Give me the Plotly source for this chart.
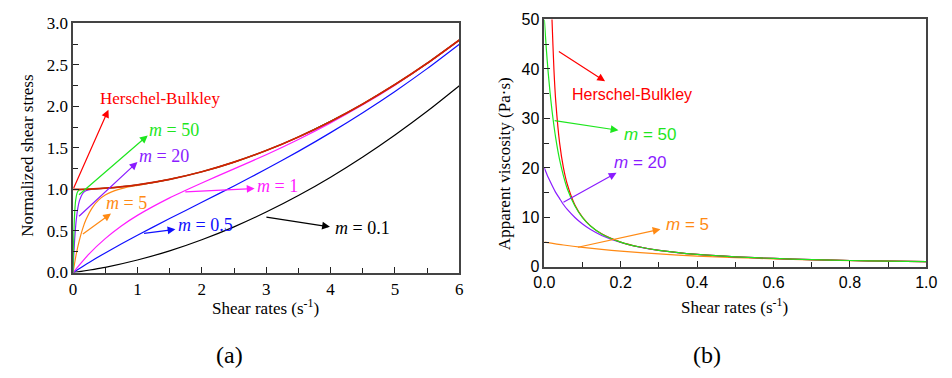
import plotly.graph_objects as go

# ---------------- data: panel (a) normalized shear stress ----------------
a_x_hb = [0, 0.25, 0.5, 1, 1.5, 2, 2.5, 3, 3.5, 4, 4.5, 5, 5.5, 6]
a_y_hb = [1.0, 1.004, 1.015, 1.056, 1.122, 1.213, 1.329, 1.468, 1.632, 1.819, 2.029, 2.262, 2.518, 2.798]

a_x_m50 = [0, 0.005, 0.01, 0.02, 0.03, 0.04, 0.06, 0.08, 0.1, 0.15, 0.25, 0.5, 1, 1.5, 2, 2.5, 3, 3.5, 4, 4.5, 5, 5.5, 6]
a_y_m50 = [0, 0.221, 0.393, 0.632, 0.777, 0.865, 0.950, 0.982, 0.994, 1.001, 1.004, 1.015, 1.056, 1.122, 1.213, 1.329, 1.468, 1.632, 1.819, 2.029, 2.262, 2.518, 2.798]

a_x_m20 = [0, 0.01, 0.02, 0.03, 0.05, 0.075, 0.1, 0.15, 0.2, 0.3, 0.4, 0.5, 1, 1.5, 2, 2.5, 3, 3.5, 4, 4.5, 5, 5.5, 6]
a_y_m20 = [0, 0.181, 0.330, 0.451, 0.632, 0.777, 0.866, 0.951, 0.984, 1.003, 1.009, 1.015, 1.056, 1.122, 1.213, 1.329, 1.468, 1.632, 1.819, 2.029, 2.262, 2.518, 2.798]

a_x_m5 = [0, 0.05, 0.1, 0.15, 0.2, 0.3, 0.4, 0.5, 0.6, 0.8, 1, 1.5, 2, 2.5, 3, 3.5, 4, 4.5, 5, 5.5, 6]
a_y_m5 = [0, 0.221, 0.393, 0.528, 0.634, 0.782, 0.874, 0.932, 0.971, 1.018, 1.049, 1.122, 1.213, 1.329, 1.468, 1.632, 1.819, 2.029, 2.262, 2.518, 2.798]

a_x_m1 = [0, 0.25, 0.5, 0.75, 1, 1.5, 2, 2.5, 3, 3.5, 4, 4.5, 5, 5.5, 6]
a_y_m1 = [0, 0.225, 0.408, 0.560, 0.688, 0.899, 1.078, 1.247, 1.418, 1.602, 1.801, 2.018, 2.255, 2.514, 2.796]

a_x_m05 = [0, 0.25, 0.5, 1, 1.5, 2, 2.5, 3, 3.5, 4, 4.5, 5, 5.5, 6]
a_y_m05 = [0, 0.122, 0.236, 0.449, 0.650, 0.845, 1.042, 1.245, 1.458, 1.684, 1.924, 2.180, 2.454, 2.748]

a_x_m01 = [0, 0.5, 1, 1.5, 2, 2.5, 3, 3.5, 4, 4.5, 5, 5.5, 6]
a_y_m01 = [0, 0.063, 0.151, 0.261, 0.395, 0.550, 0.728, 0.927, 1.148, 1.391, 1.656, 1.941, 2.249]

a_yticks = [0.0, 0.5, 1.0, 1.5, 2.0, 2.5, 3.0]
a_xticks = [0, 1, 2, 3, 4, 5, 6]

# ---------------- data: panel (b) apparent viscosity ----------------
b_x_hb = [0.018, 0.02, 0.025, 0.03, 0.04, 0.05, 0.06, 0.08, 0.1, 0.12, 0.15, 0.2, 0.25, 0.3, 0.4, 0.5, 0.6, 0.7, 0.8, 0.9, 1.0]
b_y_hb = [55.6, 50.0, 40.0, 33.3, 25.0, 20.0, 16.7, 12.5, 10.0, 8.34, 6.68, 5.01, 4.01, 3.35, 2.52, 2.03, 1.70, 1.47, 1.29, 1.16, 1.06]

b_x_m50 = [0, 0.005, 0.01, 0.015, 0.02, 0.03, 0.04, 0.05, 0.06, 0.08, 0.1, 0.12, 0.15, 0.2, 0.25, 0.3, 0.4, 0.5, 0.6, 0.7, 0.8, 0.9, 1.0]
b_y_m50 = [50, 44.2, 39.3, 35.2, 31.6, 25.9, 21.6, 18.4, 15.8, 12.3, 9.94, 8.31, 6.66, 5.01, 4.01, 3.35, 2.52, 2.03, 1.70, 1.47, 1.29, 1.16, 1.06]

b_x_m20 = [0, 0.01, 0.02, 0.03, 0.04, 0.05, 0.06, 0.08, 0.1, 0.12, 0.15, 0.2, 0.25, 0.3, 0.4, 0.5, 0.6, 0.7, 0.8, 0.9, 1.0]
b_y_m20 = [20, 18.1, 16.5, 15.0, 13.8, 12.6, 11.6, 9.98, 8.65, 7.58, 6.34, 4.92, 3.99, 3.35, 2.52, 2.03, 1.70, 1.47, 1.29, 1.16, 1.06]

b_x_m5 = [0, 0.05, 0.1, 0.15, 0.2, 0.3, 0.4, 0.5, 0.6, 0.7, 0.8, 0.9, 1.0]
b_y_m5 = [5.0, 4.42, 3.93, 3.52, 3.17, 2.61, 2.19, 1.87, 1.62, 1.43, 1.27, 1.15, 1.05]

b_yticks = [0, 10, 20, 30, 40, 50]
b_xticks = [0.0, 0.2, 0.4, 0.6, 0.8, 1.0]

# ---------------- colours ----------------
C_HB = "#ff0000"
C_HB_A = "#d42000"
C_50 = "#1ee61e"
C_20 = "#8a1cff"
C_5 = "#ff8a14"
C_1 = "#ff1cff"
C_05 = "#1010ff"
C_01 = "#000000"

SERIF = "Liberation Serif"
SANS = "Liberation Sans"

fig = go.Figure()


def add(x, y, color, xa, ya, w=1.2):
    fig.add_trace(go.Scatter(
        x=x, y=y, mode="lines", xaxis=xa, yaxis=ya, showlegend=False,
        hoverinfo="skip",
        line=dict(color=color, width=w, shape="spline", smoothing=0.6)))


# panel (a)
add(a_x_m01, a_y_m01, C_01, "x", "y")
add(a_x_m05, a_y_m05, C_05, "x", "y")
add(a_x_m1, a_y_m1, C_1, "x", "y")
add(a_x_m5, a_y_m5, C_5, "x", "y")
add(a_x_m20, a_y_m20, C_20, "x", "y")
add(a_x_m50, a_y_m50, C_50, "x", "y")
add(a_x_hb, a_y_hb, C_HB_A, "x", "y", w=1.7)

# panel (b)
add(b_x_m5, b_y_m5, C_5, "x2", "y2")
add(b_x_m20, b_y_m20, C_20, "x2", "y2")
add(b_x_hb, b_y_hb, C_HB, "x2", "y2")
add(b_x_m50, b_y_m50, C_50, "x2", "y2")

axis_common = dict(
    showline=True, linecolor="#444444", linewidth=1.5, mirror=True,
    ticks="inside", ticklen=6, tickwidth=1.2, tickcolor="#222222",
    showgrid=False, zeroline=False, fixedrange=True,
)

fig.update_layout(
    width=952, height=378, autosize=False,
    margin=dict(l=0, r=0, t=0, b=0),
    paper_bgcolor="white", plot_bgcolor="white",
    xaxis=dict(axis_common, domain=[0.0667, 0.4821], range=[0, 6],
               tickvals=a_xticks, ticktext=[str(v) for v in a_xticks],
               tickfont=dict(family=SERIF, size=17, color="#000"),
               minor=dict(dtick=0.5, ticks="inside", ticklen=5, tickwidth=1, tickcolor="#222"),
               anchor="y"),
    yaxis=dict(axis_common, domain=[0.2659, 0.9603], range=[0, 3],
               tickvals=a_yticks, ticktext=["%.1f" % v for v in a_yticks],
               tickfont=dict(family=SERIF, size=17, color="#000"),
               minor=dict(dtick=0.25, ticks="inside", ticklen=5, tickwidth=1, tickcolor="#222"),
               anchor="x"),
    xaxis2=dict(axis_common, domain=[0.5735, 0.9842], range=[0, 1],
                tickvals=b_xticks, ticktext=["%.1f" % v for v in b_xticks],
                tickfont=dict(family=SANS, size=16, color="#000"),
                minor=dict(dtick=0.1, ticks="inside", ticklen=5, tickwidth=1, tickcolor="#222"),
                anchor="y2"),
    yaxis2=dict(axis_common, domain=[0.2817, 0.9709], range=[0, 50],
                tickvals=b_yticks, ticktext=[str(v) for v in b_yticks],
                tickfont=dict(family=SANS, size=16, color="#000"),
                minor=dict(dtick=5, ticks="inside", ticklen=5, tickwidth=1, tickcolor="#222"),
                anchor="x2"),
)

ann = []


def arrow(xref, yref, x0, y0, x1, y1, color):
    ann.append(dict(xref=xref, yref=yref, axref=xref, ayref=yref,
                    x=x1, y=y1, ax=x0, ay=y0, text="", showarrow=True,
                    arrowhead=2, arrowsize=1.3, arrowwidth=1.2,
                    arrowcolor=color, standoff=0, startstandoff=0))


def label(xref, yref, x, y, text, color, family, size):
    ann.append(dict(xref=xref, yref=yref, x=x, y=y, text=text, showarrow=False,
                    xanchor="left", yanchor="middle", borderpad=0,
                    font=dict(family=family, size=size, color=color)))


# panel (a) annotations
arrow("x", "y", 0.0, 1.0, 0.55, 1.96, C_HB)
label("x", "y", 0.40, 2.10, "Herschel-Bulkley", C_HB, SERIF, 17)
arrow("x", "y", 0.07, 0.92, 1.16, 1.65, C_50)
label("x", "y", 1.17, 1.71, "<i>m</i> = 50", C_50, SERIF, 18)
arrow("x", "y", 0.07, 0.66, 1.0, 1.33, C_20)
label("x", "y", 1.01, 1.40, "<i>m</i> = 20", C_20, SERIF, 18)
arrow("x", "y", 0.13, 0.45, 0.59, 0.71, C_5)
label("x", "y", 0.50, 0.84, "<i>m</i> = 5", C_5, SERIF, 18)
arrow("x", "y", 1.72, 0.97, 2.82, 1.01, C_1)
label("x", "y", 2.84, 1.04, "<i>m</i> = 1", C_1, SERIF, 18)
arrow("x", "y", 1.08, 0.47, 1.59, 0.52, C_05)
label("x", "y", 1.61, 0.57, "<i>m</i> = 0.5", C_05, SERIF, 18)
arrow("x", "y", 2.98, 0.67, 3.99, 0.55, C_01)
label("x", "y", 4.05, 0.535, "<i>m</i> = 0.1", C_01, SERIF, 18)

# panel (b) annotations
arrow("x2", "y2", 0.034, 43.7, 0.159, 37.5, C_HB)
label("x2", "y2", 0.070, 34.8, "Herschel-Bulkley", C_HB, SANS, 16)
arrow("x2", "y2", 0.023, 29.6, 0.194, 27.6, C_50)
label("x2", "y2", 0.205, 26.8, "<i>m</i> = 50", C_50, SANS, 17)
arrow("x2", "y2", 0.046, 12.9, 0.189, 19.0, C_20)
label("x2", "y2", 0.180, 21.0, "<i>m</i> = 20", C_20, SANS, 17)
arrow("x2", "y2", 0.084, 3.9, 0.304, 7.6, C_5)
label("x2", "y2", 0.315, 8.5, "<i>m</i> = 5", C_5, SANS, 17)


# axis titles and panel labels (paper coordinates)
def ptext(x, y, text, size, family, angle=0):
    ann.append(dict(xref="paper", yref="paper", x=x / 952, y=1 - y / 378,
                    text=text, showarrow=False, xanchor="center", yanchor="middle",
                    textangle=angle, font=dict(family=family, size=size, color="#000")))


ptext(17, 155, "Normalized shear stress", 17, SERIF, -90)
ptext(261, 314, "Shear rates (s<sup>-1</sup>)", 17, SERIF)
ptext(505, 163, "Apparent viscosity (Pa·s)", 17, SERIF, -90)
ptext(741, 313, "Shear rates (s<sup>-1</sup>)", 17, SERIF)
ptext(224, 364, "(a)", 24, SERIF)
ptext(712, 364, "(b)", 24, SERIF)

fig.update_layout(annotations=ann)

fig.write_html("out.html")
